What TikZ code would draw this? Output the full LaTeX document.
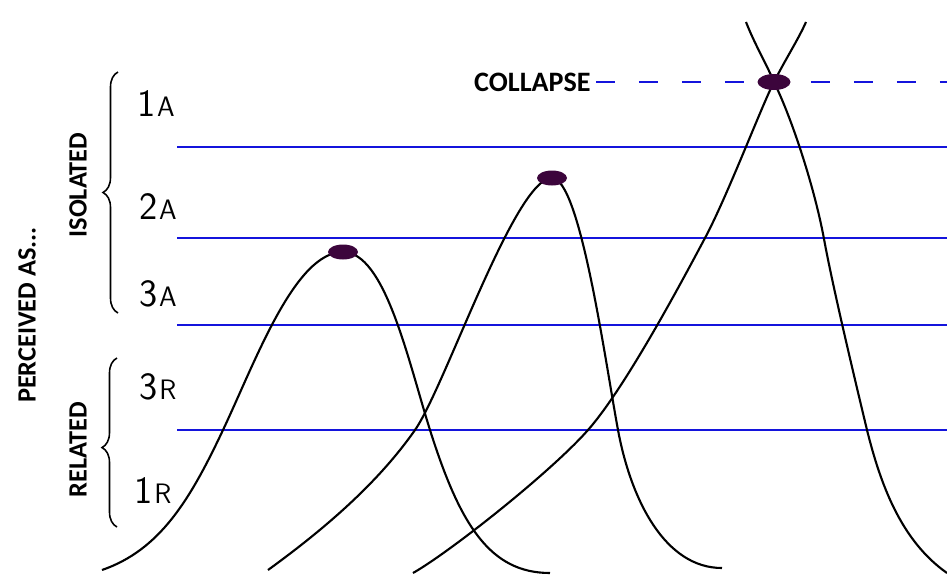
\documentclass[tikz,border=0pt]{standalone}
\usepackage{fontspec}
\setmainfont{Carlito}
\usetikzlibrary{shapes.geometric,decorations.pathreplacing}
\definecolor{levelblue}{RGB}{20,20,220}
\definecolor{peakpurple}{RGB}{60,5,60}
\newcommand{\levellabel}[2]{{\fontsize{22}{22}\selectfont #1}\kern1pt{\fontsize{16}{16}\selectfont #2}}

\begin{document}
\begin{tikzpicture}[x=0.02cm,y=-0.02cm,
    levelline/.style={levelblue,line width=1.6pt},
    collapseline/.style={levelblue,line width=1.6pt,dash pattern=on 0.38cm off 0.48cm},
    curve/.style={black,line width=1.2pt},
    peakdot/.style={ellipse,fill=peakpurple,inner sep=0pt,minimum width=0.6cm,minimum height=0.3cm},
    boldlabel/.style={font=\bfseries\fontsize{15}{15}\selectfont},
    sidelabel/.style={boldlabel,rotate=90},
    rowlabel/.style={font=\sffamily},
    bracket/.style={decorate,decoration={brace,amplitude=0.3cm},line width=0.9pt}]
  \useasboundingbox (0,0) rectangle (947,575);

  % peaks
  \coordinate (peakA) at (343,252);
  \coordinate (peakB) at (552,178);
  \coordinate (peakC) at (774,82);

  % level lines
  \foreach \y in {147,238,325,430}
    \draw[levelline] (177,\y) -- (947,\y);

  \node[boldlabel,font=\bfseries\fontsize{16}{16}\selectfont,anchor=east,inner sep=0.1cm] (collapse) at (596,82) {COLLAPSE};
  \coordinate (collapseend) at (947,82);
  \draw[collapseline] (collapse.east) -- (collapseend);

  % curves
  \draw[curve] (102,570) .. controls (160,550) and (190,500) .. (223,430)
    .. controls (256,360) and (295,252) .. (peakA)
    .. controls (385,252) and (408,360) .. (430,430)
    .. controls (460,525) and (490,573) .. (550,573);
  \draw[curve] (268,570) .. controls (330,525) and (380,480) .. (415,430)
    .. controls (445,387) and (515,178) .. (peakB)
    .. controls (580,178) and (605,360) .. (618,430)
    .. controls (631,500) and (665,568) .. (722,568);
  \draw[curve] (413,573) .. controls (450,552) and (551,472) .. (588,430)
    .. controls (625,388) and (680,285) .. (705,238)
    .. controls (727,197) and (762,105) .. (peakC)
    .. controls (785,60) and (798,40) .. (806,22);
  \draw[curve] (746,22) .. controls (755,45) and (767,65) .. (peakC)
    .. controls (793,121) and (815,190) .. (824,239)
    .. controls (833,288) and (855,380) .. (867,430)
    .. controls (880,482) and (900,540) .. (947,573);

  \node[peakdot] (dotA) at (peakA) {};
  \node[peakdot] (dotB) at (peakB) {};
  \node[peakdot,minimum width=0.66cm,minimum height=0.32cm] (dotC) at (peakC) {};

  % labels on the left
  \node[sidelabel] (perceived) at (27,315) {PERCEIVED AS...};
  \node[sidelabel] (isolated) at (78,185) {ISOLATED};
  \node[sidelabel] (related) at (78,450) {RELATED};
  \draw[bracket] (118,313) -- (118,72);
  \draw[bracket,decoration={aspect=0.47}] (117,527) -- (117,358);

  \node[rowlabel] (oneA) at (156,104) {\levellabel{1}{A}};
  \node[rowlabel] (twoA) at (158,207) {\levellabel{2}{A}};
  \node[rowlabel] (threeA) at (158,294) {\levellabel{3}{A}};
  \node[rowlabel] (threeR) at (158,387) {\levellabel{3}{R}};
  \node[rowlabel] (oneR) at (153,491) {\levellabel{1}{R}};
\end{tikzpicture}
\end{document}
